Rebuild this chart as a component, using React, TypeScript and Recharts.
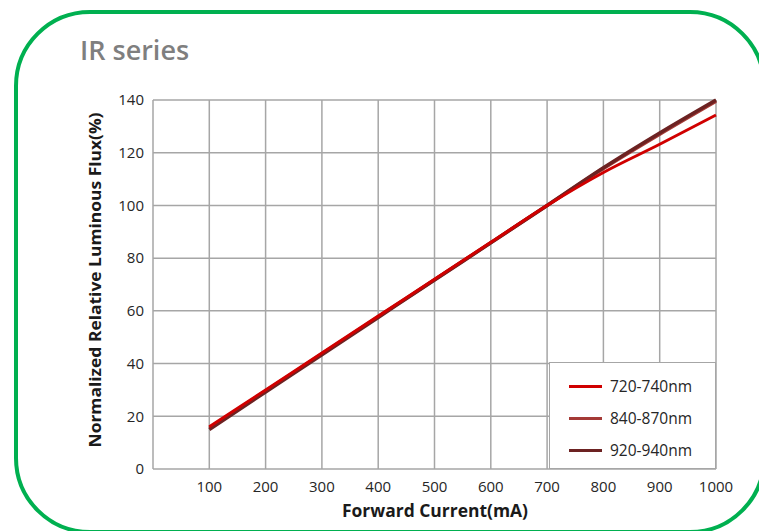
import React from 'react';
import { LineChart, Line, XAxis, YAxis, CartesianGrid, Legend } from 'recharts';

const currents = [100, 200, 300, 400, 500, 600, 700, 800, 900, 1000];
const flux720 = [16, 30, 44, 58, 72, 86, 100, 112.5, 123.2, 134.3];
const flux840 = [15.5, 29.6, 43.7, 57.8, 71.8, 85.9, 100, 114, 127, 139.5];
const flux920 = [15, 29.2, 43.3, 57.5, 71.7, 85.8, 100, 114.3, 127.5, 140];
const xTicks = [0, 100, 200, 300, 400, 500, 600, 700, 800, 900, 1000];
const yTicks = [0, 20, 40, 60, 80, 100, 120, 140];

const seriesNames = ['720-740nm', '840-870nm', '920-940nm'];
const seriesColors = ['#d00000', '#a43a36', '#6c2222'];

const data = currents.map((c, i) => ({
  current: c,
  s720: flux720[i],
  s840: flux840[i],
  s920: flux920[i],
}));

const FONT = "'Open Sans', sans-serif";

const LegendBox = () => (
  <div
    style={{
      width: 167,
      height: 107,
      boxSizing: 'border-box',
      background: '#fff',
      border: '1.5px solid #a6a6a6',
      paddingTop: 7,
      paddingLeft: 19,
    }}
  >
    {seriesNames.map((n, i) => (
      <div key={n} style={{ display: 'flex', alignItems: 'center', height: 32 }}>
        <div style={{ width: 33, height: 3, background: seriesColors[i] }} />
        <span style={{ marginLeft: 8, fontFamily: FONT, fontSize: 15.5, color: '#262626' }}>{n}</span>
      </div>
    ))}
  </div>
);

export default function App() {
  return (
    <div style={{ position: 'fixed', left: 0, top: 0, width: 759, height: 531, overflow: 'hidden', background: '#fff' }}>
      <div
        style={{
          position: 'absolute',
          left: 14,
          top: 10,
          width: 752,
          height: 524,
          boxSizing: 'border-box',
          border: '4px solid #00b050',
          borderRadius: 76,
        }}
      />
      <div
        style={{
          position: 'absolute',
          left: 80,
          top: 36,
          fontFamily: FONT,
          fontWeight: 600,
          fontSize: 27,
          lineHeight: '27px',
          color: '#7f7f7f',
          whiteSpace: 'nowrap',
        }}
      >
        IR series
      </div>
      <div style={{ position: 'absolute', left: 0, top: 0 }}>
        <LineChart width={759} height={531} data={data} margin={{ top: 100, right: 43, bottom: 0, left: 0 }}>
          <CartesianGrid stroke="#a6a6a6" strokeWidth={1.5} />
          <XAxis
            dataKey="current"
            type="number"
            domain={[0, 1000]}
            ticks={xTicks}
            tickFormatter={(v) => (v === 0 ? '' : String(v))}
            axisLine={false}
            tickLine={false}
            tickSize={0}
            tickMargin={12}
            height={62}
            tick={{ fontFamily: FONT, fontSize: 15, fill: '#262626' }}
            label={{
              content: () => (
                <text
                  x={435}
                  y={517}
                  textAnchor="middle"
                  textLength={186}
                  lengthAdjust="spacingAndGlyphs"
                  fontFamily={FONT}
                  fontWeight={700}
                  fontSize={17}
                  fill="#1a1a1a"
                >
                  Forward Current(mA)
                </text>
              ),
            }}
          />
          <YAxis
            type="number"
            domain={[0, 140]}
            ticks={yTicks}
            axisLine={false}
            tickLine={false}
            tickSize={0}
            tickMargin={9}
            width={153}
            tick={{ fontFamily: FONT, fontSize: 15, fill: '#262626' }}
            label={{
              content: () => {
                const cx = 95;
                const cy = 280;
                return (
                  <text
                    x={cx}
                    y={cy}
                    transform={`rotate(-90 ${cx} ${cy})`}
                    textAnchor="middle"
                    dominantBaseline="central"
                    textLength={335}
                    lengthAdjust="spacingAndGlyphs"
                    fontFamily={FONT}
                    fontWeight={700}
                    fontSize={16}
                    fill="#1a1a1a"
                  >
                    Normalized Relative Luminous Flux(%)
                  </text>
                );
              },
            }}
          />
          <Legend
            layout="horizontal"
            verticalAlign="middle"
            align="center"
            content={<LegendBox />}
            wrapperStyle={{ left: 549, top: 362, width: 167, height: 107 }}
          />
          <Line type="monotone" dataKey="s840" name={seriesNames[1]} stroke={seriesColors[1]} strokeWidth={3.5} dot={false} isAnimationActive={false} />
          <Line type="monotone" dataKey="s920" name={seriesNames[2]} stroke={seriesColors[2]} strokeWidth={3.5} dot={false} isAnimationActive={false} />
          <Line type="monotone" dataKey="s720" name={seriesNames[0]} stroke={seriesColors[0]} strokeWidth={3} dot={false} isAnimationActive={false} />
        </LineChart>
      </div>
    </div>
  );
}
